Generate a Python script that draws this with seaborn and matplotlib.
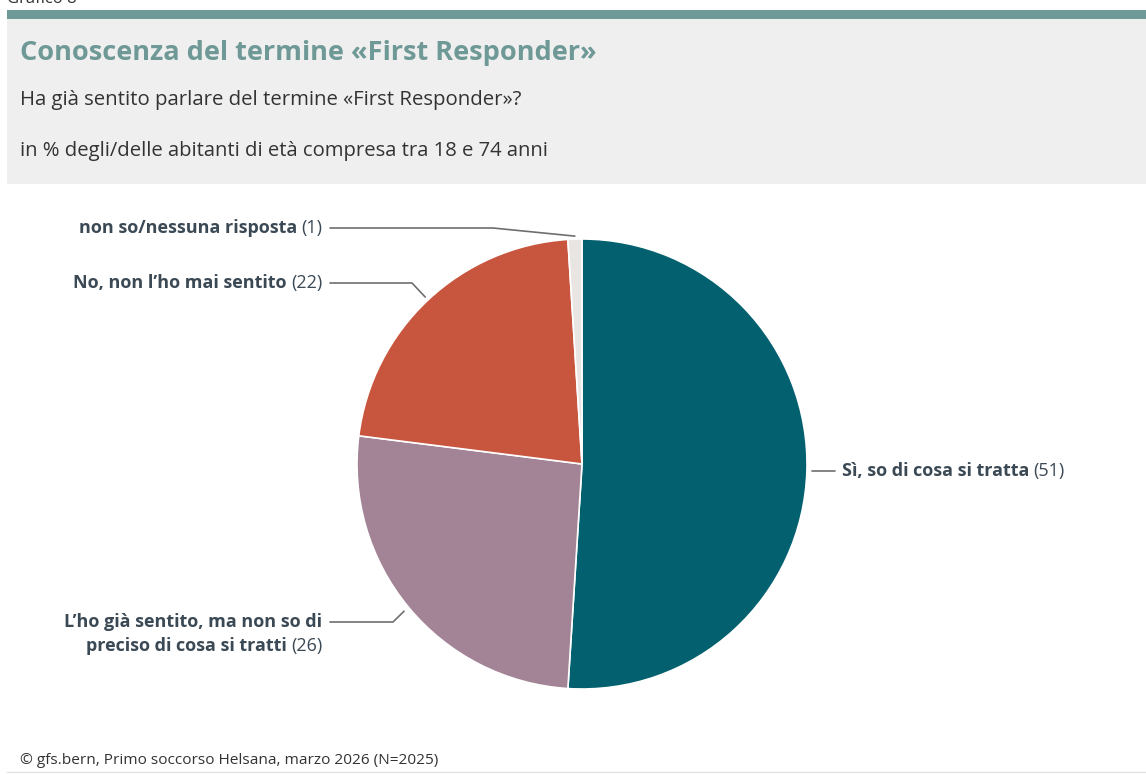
import numpy as np
import matplotlib
matplotlib.use("Agg")
import matplotlib.pyplot as plt
from matplotlib.patches import Rectangle
import seaborn as sns

# --- data ---------------------------------------------------------------
categories = [
    "Sì, so di cosa si tratta",
    "L’ho già sentito, ma non so di\npreciso di cosa si tratti",
    "No, non l’ho mai sentito",
    "non so/nessuna risposta",
]
values = [51, 26, 22, 1]
slice_colors = ["#02606F", "#A38496", "#C8553D", "#E9E5E2"]

title = "Conoscenza del termine «First Responder»"
subtitle = "Ha già sentito parlare del termine «First Responder»?"
unit_note = "in % degli/delle abitanti di età compresa tra 18 e 74 anni"
source = "© gfs.bern, Primo soccorso Helsana, marzo 2026 (N=2025)"
chart_no = "Grafico 8"

# --- style --------------------------------------------------------------
sns.set_theme(style="white")
FONT = ["Open Sans", "DejaVu Sans"]
plt.rcParams["font.family"] = FONT
palette = sns.color_palette(slice_colors)

W, H = 1146, 774
TEXT_DARK = "#3B4955"
TEXT_GREY = "#333333"
ACCENT = "#6E9996"
LINE = "#6E6E6E"

fig = plt.figure(figsize=(W / 100, H / 100), dpi=100)
fig.patch.set_facecolor("white")
ax = fig.add_axes([0, 0, 1, 1])


def Y(y_px):
    """Convert a top-down pixel row to the axis' bottom-up coordinate."""
    return H - y_px


# header panel
ax.add_patch(Rectangle((7, Y(184)), W - 7, 166, facecolor="#EFEFEF", edgecolor="none", zorder=0))
ax.add_patch(Rectangle((7, Y(18.5)), W - 7, 9, facecolor=ACCENT, edgecolor="none", zorder=1))
ax.text(7, Y(3), chart_no, ha="left", va="baseline", fontsize=12, color=TEXT_GREY)

ax.text(20, Y(53), title, ha="left", va="center", fontsize=19.5, fontweight="bold", color=ACCENT)
ax.text(20, Y(100), subtitle, ha="left", va="center", fontsize=14.7, color=TEXT_GREY)
ax.text(20, Y(151), unit_note, ha="left", va="center", fontsize=14.6, color=TEXT_GREY)

# footer
ax.text(20, Y(760), source, ha="left", va="center", fontsize=11.1, color=TEXT_GREY)
ax.plot([7, W], [Y(771.5), Y(771.5)], color="#E2E2E2", lw=1)

# --- pie ----------------------------------------------------------------
cx, cy, R = 582, Y(464), 225
ax.pie(values, colors=palette, startangle=90, counterclock=False,
       center=(cx, cy), radius=R, frame=False,
       wedgeprops=dict(edgecolor="white", linewidth=1.2))
ax.set_xlim(0, W)
ax.set_ylim(0, H)
ax.set_aspect("equal")
ax.axis("off")

# mid angle of every slice, measured clockwise from 12 o'clock
fracs = np.array(values) / np.sum(values)
mids = (np.cumsum(fracs) - fracs / 2) * 2 * np.pi


def anchor(i, r):
    return cx + r * np.sin(mids[i]), cy + r * np.cos(mids[i])


fig.canvas.draw()
renderer = fig.canvas.get_renderer()
LABEL_SIZE = 12.95


def right_label(x_right, y, bold_text, value):
    """Bold label followed by a regular '(value)', right-aligned at x_right."""
    if value is None:
        ax.text(x_right, y, bold_text, ha="right", va="center",
                fontsize=LABEL_SIZE, fontweight="bold", color=TEXT_DARK)
        return
    t = ax.text(x_right, y, f"({value})", ha="right", va="center",
                fontsize=LABEL_SIZE, color=TEXT_DARK)
    bb = t.get_window_extent(renderer)
    ax.text(bb.x0 - 4, y, bold_text, ha="right", va="center",
            fontsize=LABEL_SIZE, fontweight="bold", color=TEXT_DARK)


def left_label(x_left, y, bold_text, value):
    t = ax.text(x_left, y, bold_text, ha="left", va="center",
                fontsize=LABEL_SIZE, fontweight="bold", color=TEXT_DARK)
    bb = t.get_window_extent(renderer)
    ax.text(bb.x1 + 4, y, f"({value})", ha="left", va="center",
            fontsize=LABEL_SIZE, color=TEXT_DARK)


# Sì (right side)
ax_, ay_ = anchor(0, 230)
ax.plot([ax_, 835], [ay_, ay_], color=LINE, lw=1.2)
left_label(842, ay_, categories[0], values[0])

# L'ho già sentito (two lines, left side)
line1, line2 = categories[1].split("\n")
right_label(322, Y(622), line1, None)
right_label(322, Y(646), line2, values[1])
px, py = anchor(1, 231)
ax.plot([330, 393, px], [Y(622), Y(622), py], color=LINE, lw=1.2)

# No
px, py = anchor(2, 229)
right_label(322, Y(283), categories[2], values[2])
ax.plot([330, 412, px], [Y(283), Y(283), py], color=LINE, lw=1.2)

# non so
px, py = anchor(3, 228)
right_label(322, Y(228), categories[3], values[3])
ax.plot([330, 493, px], [Y(228), Y(228), py], color=LINE, lw=1.2)

fig.savefig("out.png", dpi=100, facecolor="white")
